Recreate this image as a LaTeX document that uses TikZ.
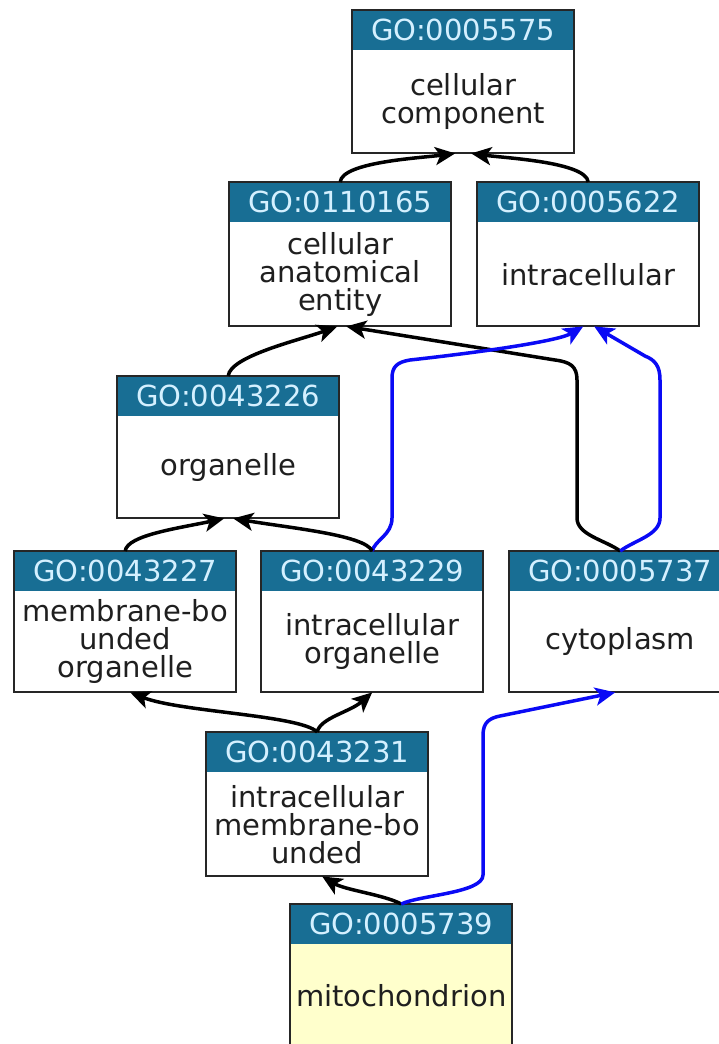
\documentclass[tikz,border=0pt]{standalone}
\usepackage{fontspec}
\setmainfont{DejaVu Sans}
\usetikzlibrary{calc,arrows.meta}
\definecolor{hdrc}{RGB}{24,110,148}
\definecolor{hdrtxt}{RGB}{212,240,255}
\definecolor{yel}{RGB}{255,255,204}
\definecolor{isblue}{RGB}{10,10,245}
\tikzset{
  termbox/.style={draw=none, rectangle, minimum width=222pt, inner sep=0pt, anchor=north west},
  hdrtext/.style={text=hdrtxt, font=\fontsize{29}{28}\selectfont, inner sep=0pt},
  bodytext/.style={text=black!88, font=\fontsize{29}{28}\selectfont, align=center, inner sep=0pt},
  boxline/.style={draw=black!85, line width=2pt},
  golink/.style={line width=3.5pt, draw=black, arrows={-Stealth[length=20pt,width=18pt,inset=5pt]}},
  bluelink/.style={golink, draw=isblue}
}
\newcommand\goterm[7]{%
  \node[termbox, fill=#7, minimum height=#4pt] (#1) at (#2,#3) {};
  \fill[hdrc] (#1.north west) rectangle ([yshift=-40pt]#1.north east);
  \node[hdrtext] (#1h) at ([yshift=-20pt]#1.north) {#5};
  \node[bodytext] (#1t) at ($([yshift=-40pt]#1.north)!0.5!(#1.south)$) {#6};
  \draw[boxline] (#1.north west) rectangle (#1.south east);
}
\begin{document}
\begin{tikzpicture}[x=1pt,y=-1pt]
\useasboundingbox (0,0) rectangle (719,1044);
\clip (0,0) rectangle (719,1044);
\fill[white] (0,0) rectangle (719,1044);
\goterm{A}{352}{10}{143}{GO:0005575}{cellular\\component}{white}
\goterm{B}{229}{182}{144}{GO:0110165}{cellular\\anatomical\\entity}{white}
\goterm{C}{477}{182}{144}{GO:0005622}{intracellular}{white}
\goterm{D}{117}{376}{142}{GO:0043226}{organelle}{white}
\goterm{E}{14}{551}{141}{GO:0043227}{membrane-bo\\unded\\organelle}{white}
\goterm{F}{261}{551}{141}{GO:0043229}{intracellular\\organelle}{white}
\goterm{G}{509}{551}{141}{GO:0005737}{cytoplasm}{white}
\goterm{H}{206}{732}{144}{GO:0043231}{intracellular\\membrane-bo\\unded}{white}
\goterm{I}{290}{904}{142}{GO:0005739}{mitochondrion}{yel}
% links
\draw[golink] (B.north) .. controls (342,162) and (420,158) .. ([xshift=-8pt]A.south);
\draw[golink] (C.north) .. controls (586,162) and (505,158) .. ([xshift=8pt]A.south);
\draw[golink] (D.north) .. controls (230,356) and (300,340) .. ([xshift=-3pt]B.south);
\draw[golink] (G.north) .. controls (605,540) and (577,535) .. (577,518) -- (577,380)
   .. controls (577,366) and (570,362) .. (555,360) -- ([xshift=6pt]B.south);
\draw[bluelink] (F.north) .. controls (375,540) and (392,535) .. (392,518) -- (392,378)
   .. controls (392,366) and (398,362) .. (410,360) .. controls (500,350) and (560,340) .. ([xshift=-5pt]C.south);
\draw[bluelink] (G.north) .. controls (635,540) and (660,535) .. (660,518) -- (660,380)
   .. controls (660,366) and (655,360) .. (645,356) -- ([xshift=6pt]C.south);
\draw[golink] (E.north) .. controls (127,535) and (180,528) .. ([xshift=-4pt]D.south);
\draw[golink] (F.north) .. controls (365,535) and (290,528) .. ([xshift=5pt]D.south);
\draw[golink] (H.north) .. controls (300,715) and (180,712) .. ([xshift=5pt]E.south);
\draw[golink] (H.north) .. controls (320,718) and (350,712) .. (F.south);
\draw[golink] (I.north) .. controls (385,895) and (345,890) .. ([xshift=5pt]H.south);
\draw[bluelink] (I.north) .. controls (420,895) and (483,893) .. (483,875) -- (483,735)
   .. controls (483,722) and (490,718) .. (500,716) -- ([xshift=-5pt]G.south);
\end{tikzpicture}
\end{document}
